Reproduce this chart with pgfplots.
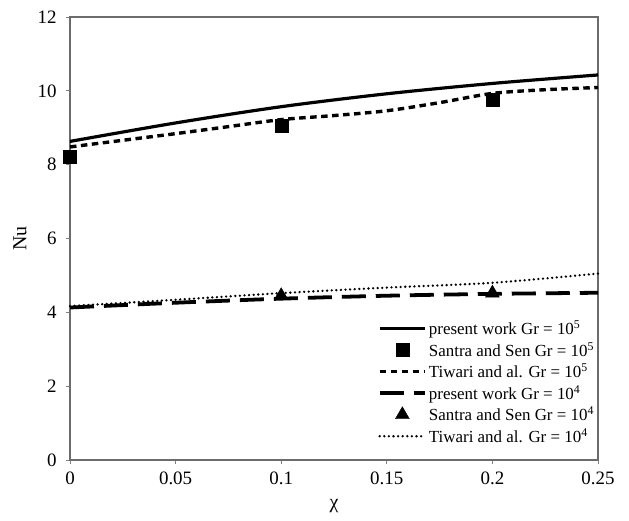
\documentclass[border=0pt]{standalone}
\usepackage{fontspec}
\setmainfont{Liberation Serif}
\usepackage{pgfplots}
\pgfplotsset{compat=1.18}
\begin{document}
\begin{tikzpicture}
\begin{axis}[
  scale only axis,
  width=528bp, height=443bp,
  xmin=0, xmax=0.25, ymin=0, ymax=12,
  xtick={0,0.05,0.1,0.15,0.2,0.25},
  xticklabels={0,0.05,0.1,0.15,0.2,0.25},
  ytick={0,2,4,6,8,10,12},
  /pgf/number format/assume math mode=true,
  tick label style={font=\fontsize{19}{21}\selectfont},
  xticklabel style={yshift=-4bp},
  yticklabel style={xshift=-6bp},
  xtick pos=bottom, ytick pos=left,
  tick align=outside,
  major tick length=4bp,
  tick style={gray, line width=0.8pt},
  axis line style={gray!85!black, line width=1.2pt},
  clip=false,
  xlabel={χ},
  ylabel={Nu},
  xlabel style={font=\fontsize{20}{22}\selectfont, at={(axis description cs:0.5,-46/443)}, anchor=center},
  ylabel style={font=\fontsize{20}{22}\selectfont, at={(axis description cs:-50/528,0.5)}, anchor=center},
  legend style={at={(1,0)}, anchor=south east, draw=none, fill=none,
    font=\fontsize{17}{18}\selectfont, row sep=2bp, inner sep=2bp, outer sep=0pt,
    xshift=0bp, yshift=12bp},
  legend cell align=left,
  legend image code/.code={\draw[mark repeat=2,mark phase=2,#1] plot coordinates {(0cm,0cm)(0.8cm,0cm)(1.6cm,0cm)};},
]
% present work Gr=1e5
\addplot[black, line width=3.2pt, smooth] coordinates {
(0,8.63)(0.05,9.13)(0.1,9.57)(0.15,9.92)(0.2,10.2)(0.25,10.43)};
\addlegendentry{present work Gr = 10\textsuperscript{5}}
% Santra and Sen Gr=1e5
\addplot[only marks, mark=square*, mark size=6.5bp, black] coordinates {
(0,8.22)(0.1,9.05)(0.2,9.75)};
\addlegendentry{Santra and Sen Gr = 10\textsuperscript{5}}
% Tiwari Gr=1e5
\addplot[black, line width=3.4pt, smooth, dash pattern=on 6.5bp off 4.5bp] coordinates {
(0,8.48)(0.025,8.66)(0.05,8.84)(0.075,9.03)(0.1,9.22)(0.125,9.33)(0.15,9.46)(0.175,9.68)(0.2,9.93)(0.225,10.03)(0.25,10.09)};
\addlegendentry{Tiwari and al. Gr = 10\textsuperscript{5}}
% present work Gr=1e4
\addplot[black, line width=3.8pt, smooth, dash pattern=on 24bp off 10bp] coordinates {
(0,4.13)(0.05,4.26)(0.1,4.37)(0.15,4.45)(0.2,4.5)(0.25,4.53)};
\addlegendentry{present work Gr = 10\textsuperscript{4}}
% Santra and Sen Gr=1e4
\addplot[only marks, mark=triangle*, mark size=8bp, black] coordinates {
(0.1,4.45)(0.2,4.52)};
\addlegendentry{Santra and Sen Gr = 10\textsuperscript{4}}
% Tiwari Gr=1e4
\addplot[black, line width=2.6pt, smooth, line cap=round, dash pattern=on 0bp off 4.6bp] coordinates {
(0,4.17)(0.05,4.34)(0.1,4.52)(0.15,4.67)(0.2,4.8)(0.25,5.05)};
\addlegendentry{Tiwari and al. Gr = 10\textsuperscript{4}}
\path (rel axis cs:-70/528,-61/443) (rel axis cs:1+31/528,1+17/443);
\end{axis}
\end{tikzpicture}
\end{document}
